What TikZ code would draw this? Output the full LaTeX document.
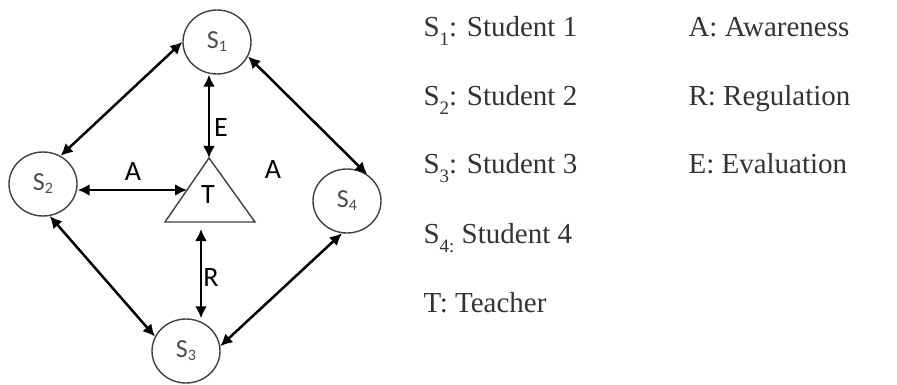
\documentclass[tikz,border=0pt]{standalone}
\usepackage{fontspec}
\setmainfont{Liberation Serif}
\newfontfamily\diafont{Carlito}
\usetikzlibrary{arrows.meta,shapes.geometric}

\newcommand{\lsub}[1]{\raisebox{-9pt}{\fontsize{19}{19}\selectfont #1}}
\newcommand{\csub}[1]{\raisebox{-3pt}{\fontsize{16}{16}\selectfont #1}}

\begin{document}
\begin{tikzpicture}[
    x=1pt, y=-1pt,
    font=\diafont\fontsize{28}{32}\selectfont,
    stud/.style={ellipse, draw=black!75, line width=1.4pt, minimum width=68pt, minimum height=64pt, inner sep=0pt, text=black!70, font=\diafont\fontsize{26}{30}\selectfont},
    link/.style={{Latex[length=12pt,width=12pt]}-{Latex[length=12pt,width=12pt]}, line width=2.5pt},
    legend/.style={anchor=base west, font=\rmfamily\fontsize{29}{34}\selectfont, text=black!80}
  ]
    \useasboundingbox (0,0) rectangle (897,385);

    % --- ESTUDIANTES ---
    \node[stud] (s1) at (217,42) {S\csub{1}};
    \node[stud] (s2) at (43,184) {S\csub{2}};
    \node[stud] (s3) at (186,351) {S\csub{3}};
    \node[stud] (s4) at (347,201) {S\csub{4}};

    % --- PROFESOR (triangulo) ---
    \draw[black!75, line width=1.4pt] (209,158) coordinate (tapex) -- (255,222) -- (165,222) -- cycle;
    \node (t) at (208,195) {T};
    \coordinate (tleft) at (187,190);
    \coordinate (tbot) at (201,229);

    % --- FLECHAS ---
    \draw[link] (s1.180) -- (s2.58);
    \draw[link] (s1.335) -- (s4.53);
    \draw[link] (s2.282) -- (s3.155);
    \draw[link] (s4.261) -- (s3.8);
    \draw[link] (tapex |- s1.south) -- (tapex);
    \draw[link] (s2.east |- tleft) -- (tleft);
    \draw[link] (tbot) -- (tbot |- s3.north);

    % etiquetas
    \node (lblaw) at (133,172) {A};
    \node (lblar) at (273,170) {A};
    \node (lble) at (221,128) {E};
    \node (lblr) at (211,278) {R};

    % --- LEYENDA ---
    \node[legend] (leg1) at (420,37) {S\lsub{1}: Student 1};
    \node[legend] (leg2) at (420,106) {S\lsub{2}: Student 2};
    \node[legend] (leg3) at (420,174) {S\lsub{3}: Student 3};
    \node[legend] (leg4) at (420,243) {S\lsub{4:} Student 4};
    \node[legend] (leg5) at (420,312) {T: Teacher};
    \node[legend] (lega) at (685,37) {A: Awareness};
    \node[legend] (legr) at (685,106) {R: Regulation};
    \node[legend] (lege) at (685,174) {E: Evaluation};
\end{tikzpicture}
\end{document}
